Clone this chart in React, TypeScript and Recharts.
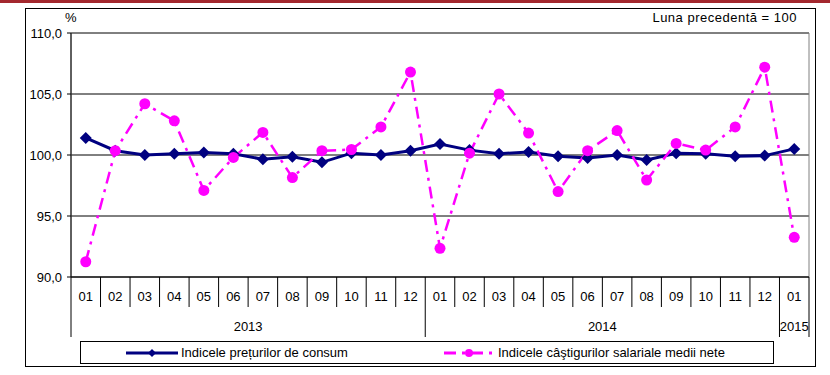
import React from "react";
import {
  LineChart,
  Line,
  XAxis,
  YAxis,
  CartesianGrid,
  ReferenceArea,
  Legend,
} from "recharts";

const months = [
  "01", "02", "03", "04", "05", "06", "07", "08", "09", "10", "11", "12",
  "01", "02", "03", "04", "05", "06", "07", "08", "09", "10", "11", "12",
  "01",
];
const years = [
  "2013", "2013", "2013", "2013", "2013", "2013", "2013", "2013", "2013", "2013", "2013", "2013",
  "2014", "2014", "2014", "2014", "2014", "2014", "2014", "2014", "2014", "2014", "2014", "2014",
  "2015",
];
const preturi = [
  101.4, 100.35, 100.0, 100.1, 100.2, 100.1, 99.65, 99.85, 99.4, 100.15, 100.0, 100.35,
  100.9, 100.4, 100.1, 100.25, 99.9, 99.75, 100.0, 99.6, 100.15, 100.1, 99.9, 99.95,
  100.5,
];
const castiguri = [
  91.25, 100.35, 104.2, 102.8, 97.1, 99.8, 101.85, 98.15, 100.35, 100.45, 102.3, 106.8,
  92.35, 100.15, 105.0, 101.8, 97.0, 100.35, 102.0, 97.95, 100.95, 100.4, 102.3, 107.2,
  93.25,
];
const yTicks = [90, 95, 100, 105, 110];

const data = months.map((m, i) => ({
  key: years[i] + "-" + m,
  month: m,
  year: years[i],
  cpi: preturi[i],
  wage: castiguri[i],
}));

const FONT = "'Liberation Sans', Arial, sans-serif";
const FS = 13;
const NAVY = "#000080";
const MAGENTA = "#ff00ff";

const W = 830;
const H = 375;
const PLOT_LEFT = 71;
const PLOT_RIGHT = 809;
const BAND = (PLOT_RIGHT - PLOT_LEFT) / months.length;

function Diamond(props: any) {
  const { cx, cy } = props;
  if (cx == null || cy == null) return null;
  const r = 6;
  return (
    <polygon
      points={`${cx},${cy - r} ${cx + r},${cy} ${cx},${cy + r} ${cx - r},${cy}`}
      fill={NAVY}
    />
  );
}

function Dot(props: any) {
  const { cx, cy } = props;
  if (cx == null || cy == null) return null;
  return <circle cx={cx} cy={cy} r={5.5} fill={MAGENTA} />;
}

function MonthTick(props: any) {
  const { x, y, payload } = props;
  const i = payload.index;
  const half = BAND / 2;
  const left = x - half;
  const yr = years[i];
  const first = i === 0 || years[i - 1] !== yr;
  const last = i === months.length - 1;
  const count = years.filter((v) => v === yr).length;
  return (
    <g>
      <line x1={left} y1={y} x2={left} y2={y + (first ? 60 : 30)} stroke="#000" />
      {last && (
        <line x1={x + half} y1={y} x2={x + half} y2={y + 60} stroke="#000" />
      )}
      <text x={x} y={y + 24} textAnchor="middle" fontSize={FS} fontFamily={FONT} fill="#000">
        {months[i]}
      </text>
      {first && (
        <text
          x={left + (count * BAND) / 2}
          y={y + 54}
          textAnchor="middle"
          fontSize={FS}
          fontFamily={FONT}
          fill="#000"
        >
          {yr}
        </text>
      )}
    </g>
  );
}

function LegendBox() {
  return (
    <div
      style={{
        marginLeft: 80,
        marginTop: 4,
        width: 692,
        height: 21,
        border: "1px solid #000",
        position: "relative",
        background: "#fff",
      }}
    >
      <svg width={692} height={21} style={{ position: "absolute", left: 0, top: 0 }}>
        <line x1={45} y1={11} x2={97} y2={11} stroke={NAVY} strokeWidth={3} />
        <polygon points="71,7 75,11 71,15 67,11" fill={NAVY} />
        <line x1={363} y1={11} x2={413} y2={11} stroke={MAGENTA} strokeWidth={3} strokeDasharray="12 6 3 6" />
        <circle cx={388} cy={11} r={4} fill={MAGENTA} />
        <text x={100} y={15} fontSize={FS} fontFamily={FONT}>Indicele prețurilor de consum</text>
        <text x={417} y={15} fontSize={FS} fontFamily={FONT}>Indicele câştigurilor salariale medii nete</text>
      </svg>
    </div>
  );
}

export default function App() {
  return (
    <div style={{ position: "absolute", left: 0, top: 0, width: W, height: H, background: "#fff" }}>
      <div style={{ position: "absolute", left: 0, top: 0, width: W, height: 3, background: "#a3282e" }} />
      <div
        style={{
          position: "absolute",
          left: 25,
          top: 8,
          width: 789,
          height: 357,
          border: "1px solid #000",
        }}
      />
      <div
        style={{
          position: "absolute",
          left: 65,
          top: 10,
          fontFamily: FONT,
          fontSize: FS,
        }}
      >
        %
      </div>
      <div
        style={{
          position: "absolute",
          right: 33,
          top: 10,
          fontFamily: FONT,
          fontSize: FS,
          letterSpacing: 0.5,
        }}
      >
        Luna precedentă = 100
      </div>
      <div style={{ position: "absolute", left: 0, top: 0 }}>
        <LineChart
          width={W}
          height={H}
          data={data}
          margin={{ top: 33, right: W - PLOT_RIGHT, left: 0, bottom: 12 }}
        >
          <CartesianGrid vertical={false} stroke="#000" />
          <ReferenceArea y1={90} y2={110} fill="none" stroke="#808080" ifOverflow="visible" />
          <XAxis
            dataKey="key"
            scale="band"
            interval={0}
            height={60}
            tickLine={false}
            tickSize={0}
            tickMargin={0}
            axisLine={{ stroke: "#000" }}
            tick={<MonthTick />}
          />
          <YAxis
            width={PLOT_LEFT}
            domain={[90, 110]}
            ticks={yTicks}
            interval={0}
            tickSize={4}
            tickMargin={5}
            axisLine={{ stroke: "#000" }}
            tickLine={{ stroke: "#000" }}
            tick={{ fill: "#000", fontSize: FS, fontFamily: FONT }}
            tickFormatter={(v: number) => v.toFixed(1).replace(".", ",")}
          />
          <Legend
            verticalAlign="bottom"
            align="left"
            height={26}
            content={() => <LegendBox />}
          />
          <Line
            dataKey="cpi"
            stroke={NAVY}
            strokeWidth={3}
            dot={<Diamond />}
            isAnimationActive={false}
          />
          <Line
            dataKey="wage"
            stroke={MAGENTA}
            strokeWidth={2.5}
            strokeDasharray="12 6 3 6"
            dot={<Dot />}
            isAnimationActive={false}
          />
        </LineChart>
      </div>
    </div>
  );
}
